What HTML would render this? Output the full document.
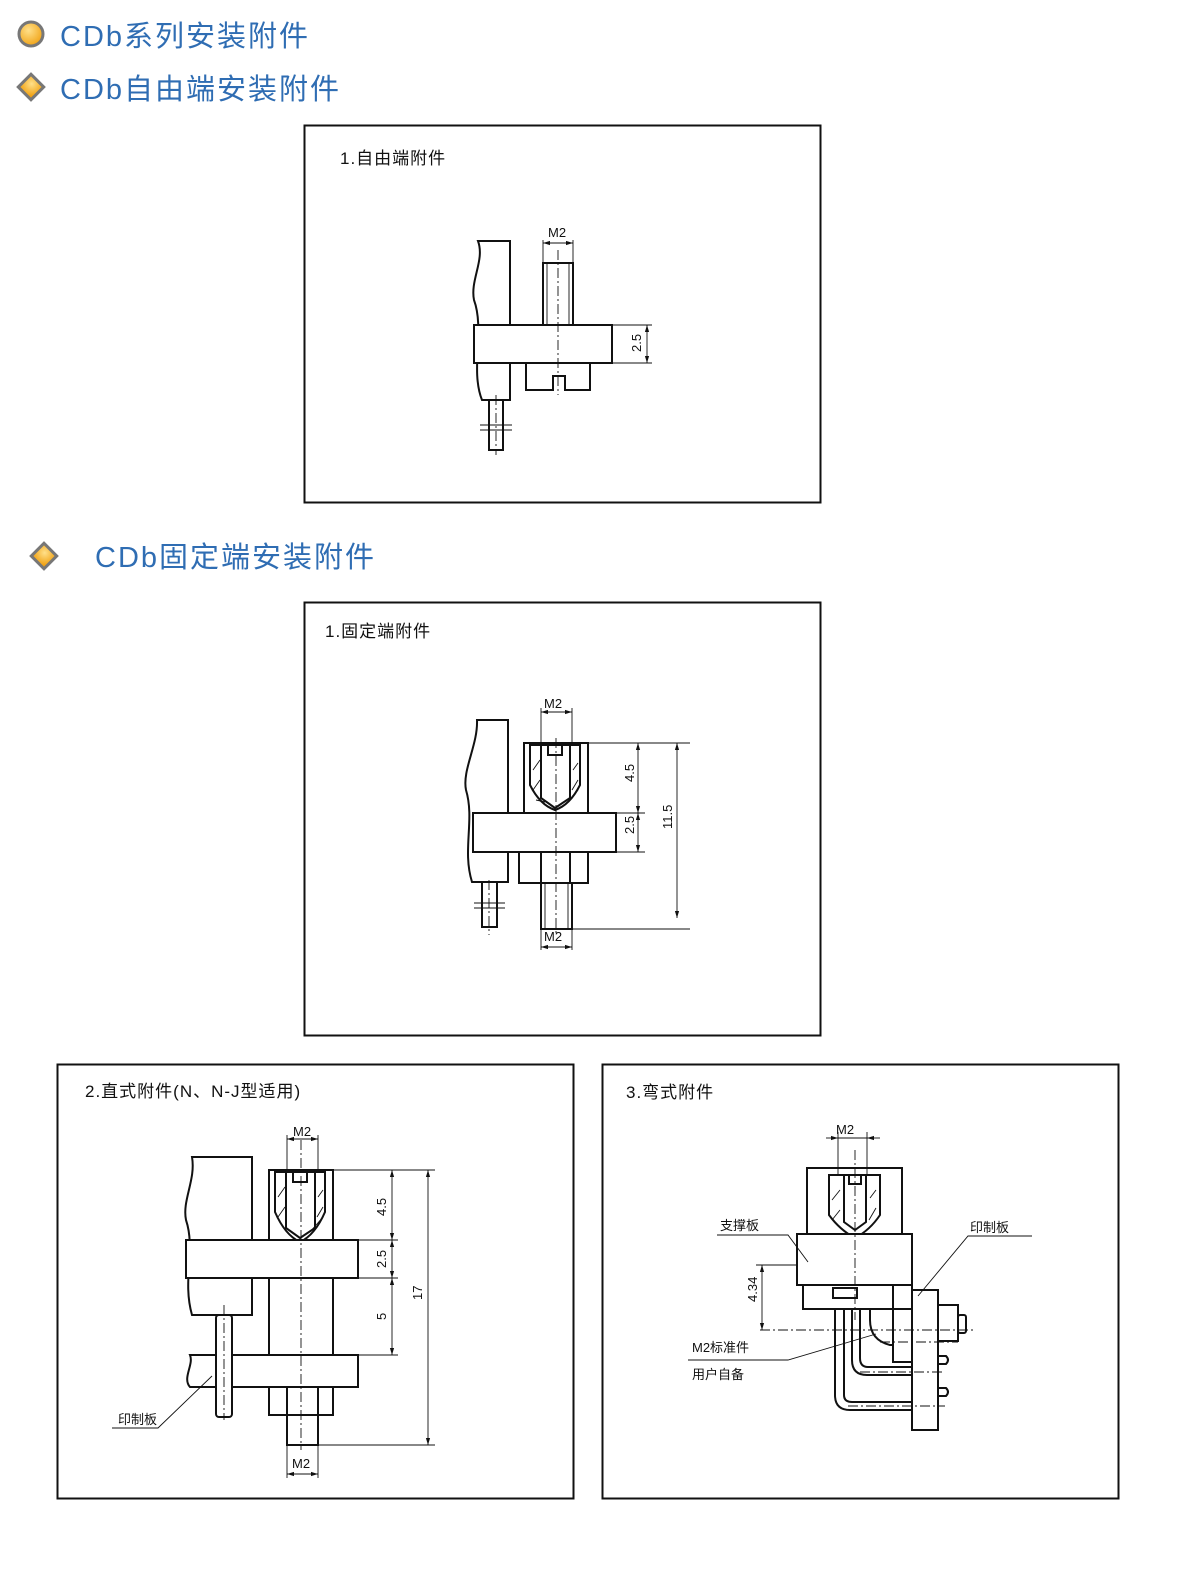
<!DOCTYPE html>
<html><head><meta charset="utf-8"><style>
body{margin:0;background:#fff}
svg{display:block}
.h{font-family:"Liberation Sans","Noto Sans CJK SC",sans-serif;fill:#2f6db3;font-size:29px;letter-spacing:2px}
.t{font-family:"Liberation Sans","Noto Sans CJK SC",sans-serif;font-size:17px;fill:#111;letter-spacing:1px}
.s{font-family:"Liberation Sans","Noto Sans CJK SC",sans-serif;font-size:13px;fill:#111}
.d{font-family:"Liberation Sans",sans-serif;font-size:13px;fill:#111}
.k{fill:none;stroke:#111;stroke-width:2}
.w{fill:#fff;stroke:#111;stroke-width:2}
.c{stroke:#111;stroke-width:0.9;stroke-dasharray:10 3 2 3;fill:none}
.th{stroke:#111;stroke-width:0.9;fill:none}
</style></head><body>
<svg width="1200" height="1586" viewBox="0 0 1200 1586" xmlns="http://www.w3.org/2000/svg">
<defs>
<radialGradient id="g" cx="0.4" cy="0.35" r="0.7"><stop offset="0" stop-color="#ffe08a"/><stop offset="1" stop-color="#f0a010"/></radialGradient>
<marker id="a" viewBox="0 0 10 10" refX="10" refY="5" markerWidth="8" markerHeight="8" orient="auto-start-reverse"><path d="M0,2 L10,5 L0,8z" fill="#111"/></marker>
</defs>
<circle cx="31" cy="34" r="12" fill="url(#g)" stroke="#777" stroke-width="3"/>
<text class="h" x="60" y="46">CDb系列安装附件</text>
<rect x="22" y="78" width="18" height="18" transform="rotate(45 31 87)" fill="url(#g)" stroke="#777" stroke-width="3"/>
<text class="h" x="60" y="99">CDb自由端安装附件</text>
<rect x="35" y="547" width="18" height="18" transform="rotate(45 44 556)" fill="url(#g)" stroke="#777" stroke-width="3"/>
<text class="h" x="95" y="567">CDb固定端安装附件</text>

<rect x="304.5" y="125.5" width="516" height="377" class="k"/>
<text class="t" x="340" y="164">1.自由端附件</text>
<path class="w" d="M478,241 L510,241 L510,400 L482,400 C470,370 485,330 474,300 C470,280 485,260 478,241z"/>
<rect class="w" x="543" y="263" width="30" height="62"/>
<line class="th" x1="547" y1="263" x2="547" y2="325"/><line class="th" x1="569" y1="263" x2="569" y2="325"/>
<path class="w" d="M526,363 L590,363 L590,390 L565,390 L565,376 L553,376 L553,390 L526,390z"/>
<rect class="w" x="474" y="325" width="138" height="38"/>
<rect class="w" x="489" y="400" width="14" height="50"/>
<line class="c" x1="496" y1="395" x2="496" y2="455"/><line class="th" x1="480" y1="425" x2="512" y2="425"/><line class="th" x1="480" y1="430" x2="512" y2="430"/>
<line class="c" x1="558" y1="250" x2="558" y2="395"/>
<line class="th" x1="543" y1="240" x2="543" y2="263"/><line class="th" x1="573" y1="240" x2="573" y2="263"/>
<line class="th" x1="543" y1="243" x2="573" y2="243" marker-start="url(#a)" marker-end="url(#a)"/>
<text class="d" x="548" y="237">M2</text>
<line class="th" x1="612" y1="325" x2="652" y2="325"/><line class="th" x1="612" y1="363" x2="652" y2="363"/>
<line class="th" x1="647" y1="325" x2="647" y2="363" marker-start="url(#a)" marker-end="url(#a)"/>
<text class="d" transform="translate(641,352) rotate(-90)">2.5</text>

<rect x="304.5" y="602.5" width="516" height="433" class="k"/>
<text class="t" x="325" y="637">1.固定端附件</text>
<path class="w" d="M477,720 L508,720 L508,882 L472,882 C462,850 475,820 466,790 C462,770 478,745 477,720z"/>
<rect class="w" x="524" y="743" width="64" height="70"/>
<path class="w" d="M530,745 L580,745 L580,785 Q570,805 555,810 Q540,805 530,785z"/>
<path class="w" d="M541,745 L570,745 L570,798 L555,808 L541,798z"/>
<path class="k" d="M548,745 L548,755 L562,755 L562,745"/>
<path class="th" d="M533,770 L540,760 M533,790 L540,780 M573,770 L578,763 M572,790 L578,780 M565,805 L578,790 M536,800 L545,802"/>
<rect class="w" x="473" y="813" width="143" height="39"/>
<rect class="w" x="519" y="852" width="69" height="31"/>
<line class="k" x1="541" y1="852" x2="541" y2="883"/><line class="k" x1="570" y1="852" x2="570" y2="883"/>
<rect class="w" x="541" y="883" width="31" height="46"/>
<line class="th" x1="545" y1="883" x2="545" y2="929"/><line class="th" x1="568" y1="883" x2="568" y2="929"/>
<rect class="w" x="482" y="882" width="15" height="45"/>
<line class="c" x1="489" y1="880" x2="489" y2="935"/><line class="th" x1="474" y1="903" x2="505" y2="903"/><line class="th" x1="474" y1="908" x2="505" y2="908"/>
<line class="c" x1="556" y1="738" x2="556" y2="935"/>
<line class="th" x1="541" y1="708" x2="541" y2="743"/><line class="th" x1="572" y1="708" x2="572" y2="743"/>
<line class="th" x1="541" y1="712" x2="572" y2="712" marker-start="url(#a)" marker-end="url(#a)"/>
<text class="d" x="544" y="708">M2</text>
<line class="th" x1="541" y1="929" x2="541" y2="950"/><line class="th" x1="572" y1="929" x2="572" y2="950"/>
<line class="th" x1="541" y1="947" x2="572" y2="947" marker-start="url(#a)" marker-end="url(#a)"/>
<text class="d" x="544" y="941">M2</text>
<line class="th" x1="588" y1="743" x2="690" y2="743"/><line class="th" x1="616" y1="813" x2="645" y2="813"/><line class="th" x1="616" y1="852" x2="645" y2="852"/><line class="th" x1="572" y1="929" x2="690" y2="929"/>
<line class="th" x1="638" y1="743" x2="638" y2="813" marker-start="url(#a)" marker-end="url(#a)"/>
<line class="th" x1="638" y1="813" x2="638" y2="852" marker-start="url(#a)" marker-end="url(#a)"/>
<line class="th" x1="677" y1="743" x2="677" y2="918" marker-start="url(#a)" marker-end="url(#a)"/>
<text class="d" transform="translate(634,782) rotate(-90)">4.5</text>
<text class="d" transform="translate(634,834) rotate(-90)">2.5</text>
<text class="d" transform="translate(672,829) rotate(-90)">11.5</text>

<rect x="57.5" y="1064.5" width="516" height="434" class="k"/>
<text class="t" x="85" y="1097">2.直式附件(N、N-J型适用)</text>
<path class="w" d="M192,1157 L252,1157 L252,1315 L192,1315 C182,1280 196,1250 186,1220 C182,1200 196,1180 192,1157z"/>
<rect class="w" x="269" y="1170" width="64" height="70"/>
<path class="w" d="M275,1172 L325,1172 L325,1212 Q315,1235 300,1242 Q285,1235 275,1212z"/>
<path class="w" d="M286,1172 L315,1172 L315,1228 L300,1238 L286,1228z"/>
<path class="k" d="M293,1172 L293,1182 L307,1182 L307,1172"/>
<path class="th" d="M278,1197 L285,1187 M278,1217 L285,1207 M318,1197 L323,1190 M317,1217 L323,1207 M310,1232 L323,1217"/>
<rect class="w" x="186" y="1240" width="172" height="38"/>
<rect class="w" x="269" y="1278" width="64" height="77"/>
<path class="w" d="M190,1355 L358,1355 L358,1387 L190,1387 C182,1378 194,1365 190,1355z"/>
<rect class="w" x="269" y="1387" width="64" height="28"/>
<line class="k" x1="287" y1="1387" x2="287" y2="1415"/><line class="k" x1="318" y1="1387" x2="318" y2="1415"/>
<rect class="w" x="287" y="1415" width="31" height="30"/>
<rect class="w" x="216" y="1315" width="16" height="102" rx="3"/>
<line class="c" x1="224" y1="1305" x2="224" y2="1420"/>
<line class="c" x1="301" y1="1140" x2="301" y2="1450"/>
<line class="th" x1="287" y1="1135" x2="287" y2="1170"/><line class="th" x1="318" y1="1135" x2="318" y2="1170"/>
<line class="th" x1="287" y1="1139" x2="318" y2="1139" marker-start="url(#a)" marker-end="url(#a)"/>
<text class="d" x="293" y="1136">M2</text>
<line class="th" x1="287" y1="1445" x2="287" y2="1478"/><line class="th" x1="318" y1="1445" x2="318" y2="1478"/>
<line class="th" x1="287" y1="1474" x2="318" y2="1474" marker-start="url(#a)" marker-end="url(#a)"/>
<text class="d" x="292" y="1468">M2</text>
<line class="th" x1="333" y1="1170" x2="435" y2="1170"/><line class="th" x1="358" y1="1240" x2="398" y2="1240"/><line class="th" x1="358" y1="1278" x2="398" y2="1278"/><line class="th" x1="358" y1="1355" x2="398" y2="1355"/><line class="th" x1="318" y1="1445" x2="435" y2="1445"/>
<line class="th" x1="392" y1="1170" x2="392" y2="1240" marker-start="url(#a)" marker-end="url(#a)"/>
<line class="th" x1="392" y1="1240" x2="392" y2="1278" marker-start="url(#a)" marker-end="url(#a)"/>
<line class="th" x1="392" y1="1278" x2="392" y2="1355" marker-start="url(#a)" marker-end="url(#a)"/>
<line class="th" x1="428" y1="1170" x2="428" y2="1445" marker-start="url(#a)" marker-end="url(#a)"/>
<text class="d" transform="translate(386,1216) rotate(-90)">4.5</text>
<text class="d" transform="translate(386,1268) rotate(-90)">2.5</text>
<text class="d" transform="translate(386,1320) rotate(-90)">5</text>
<text class="d" transform="translate(422,1300) rotate(-90)">17</text>
<text class="s" x="118" y="1424">印制板</text>
<polyline class="th" points="112,1428 158,1428 212,1376"/>

<rect x="602.5" y="1064.5" width="516" height="434" class="k"/>
<text class="t" x="626" y="1098">3.弯式附件</text>
<rect class="w" x="807" y="1168" width="95" height="66"/>
<path class="w" d="M829,1175 L880,1175 L880,1215 Q870,1230 855,1238 Q840,1230 829,1215z"/>
<path class="w" d="M844,1175 L866,1175 L866,1222 L855,1230 L844,1222z"/>
<path class="k" d="M849,1175 L849,1184 L861,1184 L861,1175"/>
<path class="th" d="M832,1200 L840,1190 M832,1220 L840,1210 M870,1198 L876,1190 M869,1220 L876,1208"/>
<rect class="w" x="797" y="1234" width="115" height="51"/>
<path class="w" d="M803,1285 L893,1285 L893,1362 L912,1362 L912,1285 L912,1309 L803,1309z"/>
<rect class="w" x="833" y="1288" width="24" height="10"/>
<path class="k" d="M835,1309 L835,1395 Q835,1410 850,1410 L912,1410 M844,1309 L844,1395 Q844,1402 852,1402 L912,1402"/>
<path class="k" d="M852,1309 L852,1360 Q852,1375 867,1375 L912,1375 M860,1309 L860,1358 Q860,1367 868,1367 L912,1367"/>
<path class="k" d="M870,1309 L870,1320 Q870,1340 890,1345 L893,1345"/>
<rect class="w" x="912" y="1290" width="26" height="140"/>
<rect class="w" x="938" y="1305" width="20" height="36"/>
<rect class="w" x="958" y="1315" width="8" height="18" rx="2"/>
<path class="k" d="M938,1356 L946,1356 Q950,1360 946,1364 L938,1364 M938,1388 L946,1388 Q950,1392 946,1396 L938,1396"/>
<line class="c" x1="855" y1="1150" x2="855" y2="1320"/>
<line class="c" x1="760" y1="1330" x2="975" y2="1330"/>
<line class="c" x1="880" y1="1342" x2="958" y2="1342"/>
<line class="c" x1="860" y1="1372" x2="945" y2="1372"/>
<line class="c" x1="848" y1="1406" x2="945" y2="1406"/>
<line class="th" x1="838" y1="1132" x2="838" y2="1175"/><line class="th" x1="867" y1="1132" x2="867" y2="1175"/>
<line class="th" x1="826" y1="1138" x2="838" y2="1138" marker-end="url(#a)"/><line class="th" x1="880" y1="1138" x2="867" y2="1138" marker-end="url(#a)"/>
<line class="th" x1="838" y1="1138" x2="867" y2="1138"/>
<text class="d" x="836" y="1134">M2</text>
<line class="th" x1="756" y1="1265" x2="797" y2="1265"/>
<line class="th" x1="762" y1="1265" x2="762" y2="1330" marker-start="url(#a)" marker-end="url(#a)"/>
<text class="d" transform="translate(757,1302) rotate(-90)">4.34</text>
<text class="s" x="720" y="1230">支撑板</text>
<polyline class="th" points="717,1235 788,1235 808,1262"/>
<text class="s" x="970" y="1232">印制板</text>
<polyline class="th" points="1032,1236 968,1236 918,1296"/>
<text class="s" x="692" y="1352">M2标准件</text>
<polyline class="th" points="688,1360 788,1360 876,1334"/>
<text class="s" x="692" y="1379">用户自备</text>
</svg>
</body></html>
